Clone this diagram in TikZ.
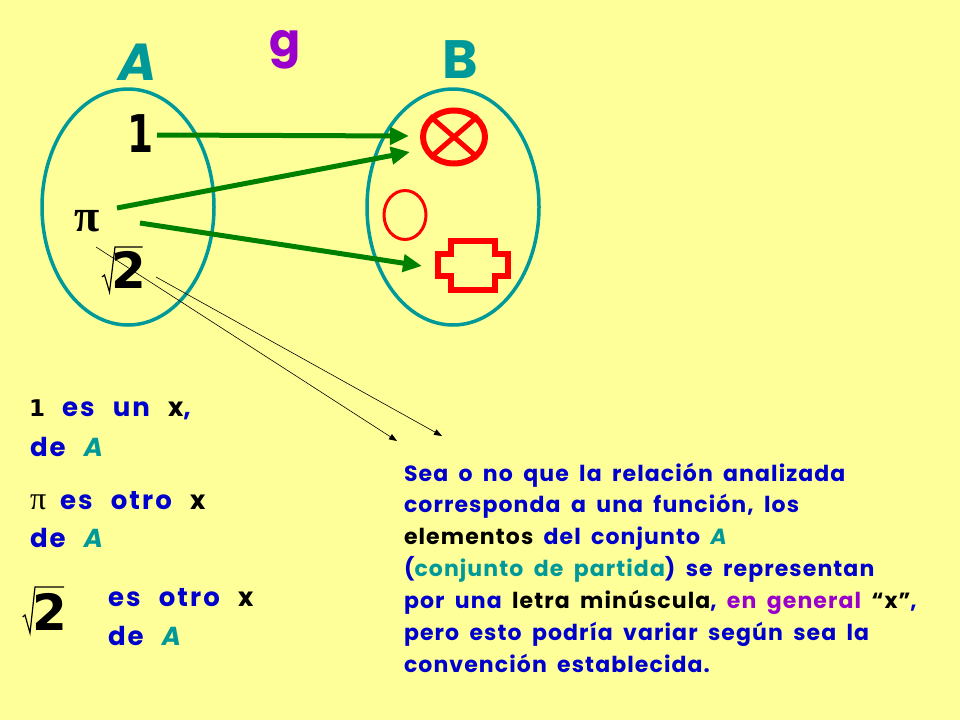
\documentclass[tikz,border=0pt]{standalone}
\usepackage{fontspec}
\setmainfont{Poppins}[LetterSpace=5,WordSpace=1.8]
\newfontfamily\serifpi{Liberation Serif}
\newfontfamily\digitfont{DejaVu Sans}
\newfontfamily\lefttext{Poppins}[LetterSpace=8,WordSpace=2.4]
\usetikzlibrary{arrows.meta,shapes.geometric}
\definecolor{bgy}{HTML}{FFFF99}
\definecolor{tealc}{HTML}{009999}
\definecolor{bluec}{HTML}{0000CC}
\definecolor{purpc}{HTML}{9900CC}
\definecolor{greenc}{HTML}{008000}
\newcommand{\bl}[1]{\textcolor{bluec}{#1}}
\newcommand{\tl}[1]{\textcolor{tealc}{#1}}
\newcommand{\ka}[1]{\textcolor{black}{#1}}
\tikzset{
  setring/.style={ellipse,draw=tealc,line width=3.5pt,inner sep=0pt},
  maparrow/.style={draw=greenc,line width=5pt,-{Triangle[length=19pt,width=17pt]}},
  thinarrow/.style={draw=black,line width=0.6pt,-{Triangle[length=8pt,width=6pt]}},
  txt/.style={anchor=base west,inner sep=0pt,outer sep=0pt,font=\lefttext\bfseries\fontsize{26}{26}\selectfont},
  txtb/.style={anchor=base west,inner sep=0pt,outer sep=0pt,font=\bfseries\fontsize{22}{22}\selectfont},
  big/.style={inner sep=0pt,outer sep=0pt,font=\bfseries\fontsize{54}{54}\selectfont},
  bigdigit/.style={inner sep=0pt,outer sep=0pt,text=black,font=\digitfont\bfseries\fontsize{50}{50}\selectfont},
  radical/.style={draw=black,line width=1.2pt,line join=miter}
}
\begin{document}
\begin{tikzpicture}[x=1pt,y=-1pt]
\useasboundingbox (0,0) rectangle (960,720);
\fill[bgy] (0,0) rectangle (960,720);
% sets
\node[setring,minimum width=172pt,minimum height=236pt] (setA) at (128,207) {};
\node[setring,minimum width=172pt,minimum height=236pt] (setB) at (453,207) {};
% headings
\node[big,text=tealc,font=\bfseries\itshape\fontsize{52}{52}\selectfont] (labA) at (138,62) {A};
\node[big,text=tealc] (labB) at (460,60) {B};
\node[big,text=purpc,font=\bfseries\fontsize{46}{46}\selectfont] (labg) at (285,50) {g};
% elements of A
\node[bigdigit,font=\digitfont\bfseries\fontsize{52}{52}\selectfont,xscale=0.72] (one) at (141,134) {1};
\node[inner sep=0pt,font=\serifpi\bfseries\fontsize{46}{46}\selectfont] (pi) at (87,221) {π};
\node[bigdigit] (twoA) at (129,270) {2};
\draw[radical] (102,277) -- (104.5,275) -- (109.5,292) -- (115,247) -- (142.6,247);
% elements of B
\node[ellipse,draw=red,line width=6pt,minimum width=62pt,minimum height=53pt,inner sep=0pt] (xc) at (454,137) {};
\draw[red,line width=5pt] (xc.north west) -- (xc.south east);
\draw[red,line width=5pt] (xc.north east) -- (xc.south west);
\node[ellipse,draw=red,line width=3pt,minimum width=42pt,minimum height=49pt,inner sep=0pt] (oc) at (405,215) {};
\draw[red,line width=6pt,line join=miter] (451,241) -- (495,241) -- (495,253.5) -- (508,253.5) -- (508,275.5) -- (495,275.5) -- (495,290) -- (451,290) -- (451,275.5) -- (438,275.5) -- (438,253.5) -- (451,253.5) -- cycle;
\coordinate (plus) at (422,266);
% arrows
\coordinate (a1s) at (157,135); \coordinate (a1e) at (409,136);
\coordinate (a2s) at (117,208); \coordinate (a2e) at (410,152);
\coordinate (a3s) at (140,223);
\coordinate (t1s) at (96,247);  \coordinate (t1e) at (397,441);
\coordinate (t2s) at (156,277); \coordinate (t2e) at (442,436);
\draw[maparrow] (a1s) -- (a1e);
\draw[maparrow] (a2s) -- (a2e);
\draw[maparrow] (a3s) -- (plus);
\draw[thinarrow] (t1s) -- (t1e);
\draw[thinarrow] (t2s) -- (t2e);
% left text
\node[txt,font=\digitfont\bfseries\fontsize{23}{23}\selectfont] (l1a) at (29,416) {\ka{1}};
\node[txt] (l1b) at (62,416) {\bl{es un} \ka{x}\bl{,}};
\node[txt] (l2) at (30,456) {\bl{de} \tl{\itshape A}};
\node[txt,font=\serifpi\fontsize{32}{32}\selectfont] (l3a) at (30,509) {π};
\node[txt] (l3b) at (60,509) {\bl{es otro} \ka{x}};
\node[txt] (l4) at (30,547) {\bl{de} \tl{\itshape A}};
\node[bigdigit,anchor=center] (twoB) at (50,612) {2};
\draw[radical] (22.7,617) -- (25,615) -- (30,633) -- (35,587) -- (64,587);
\node[txt] (l5) at (108,606) {\bl{es otro} \ka{x}};
\node[txt] (l6) at (108,645) {\bl{de} \tl{\itshape A}};
% right text
\node[txtb] (r1) at (404,481) {\bl{Sea o no que la relación analizada}};
\node[txtb] (r2) at (404,512) {\bl{corresponda a una función, los}};
\node[txtb] (r3) at (404,544) {\ka{elementos} \bl{del conjunto} \tl{\itshape A}};
\node[txtb] (r4) at (404,576) {\bl{(}\tl{conjunto de partida}\bl{) se representan}};
\node[txtb] (r5) at (404,608) {\bl{por una} \ka{letra minúscula}\bl{,} \textcolor{purpc}{en general} \ka{“x”}\bl{,}};
\node[txtb] (r6) at (404,640) {\bl{pero esto podría variar según sea la}};
\node[txtb] (r7) at (404,672) {\bl{convención establecida.}};
\end{tikzpicture}
\end{document}
